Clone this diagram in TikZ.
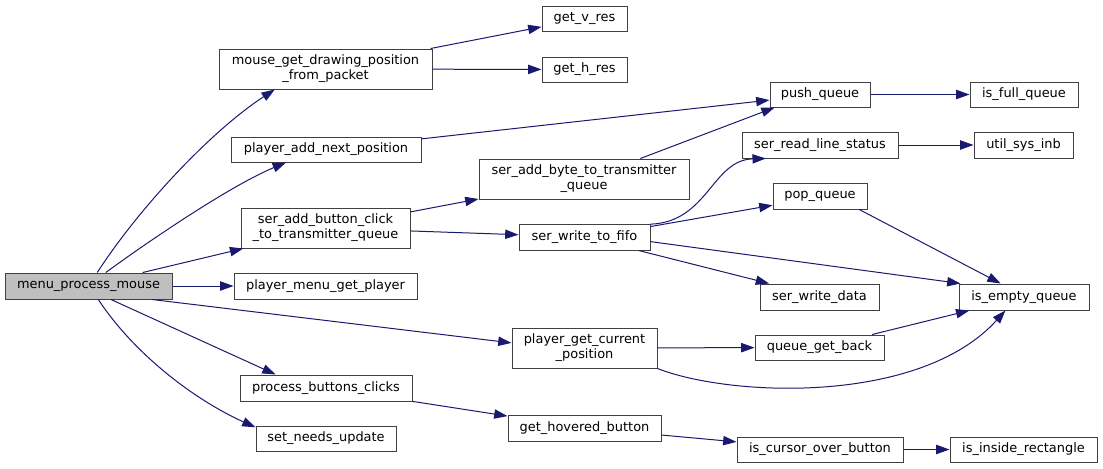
\documentclass[tikz,border=0pt]{standalone}
\usepackage{fontspec}
\setmainfont{DejaVu Sans}
\usetikzlibrary{arrows.meta}

\begin{document}
\begin{tikzpicture}[x=0.75pt,y=-0.75pt,
  func/.style 2 args={draw=cborder,line width=0.75pt,fill=white,inner sep=0pt,align=center,
    minimum width=#1*0.75pt,minimum height=#2*0.75pt,font=\fontsize{9.7}{11.3}\selectfont},
  call/.style={draw=ccall,line width=0.75pt,-{Triangle[length=10pt,width=7pt]}}]
  \definecolor{cborder}{RGB}{64,64,64}
  \definecolor{croot}{RGB}{191,191,191}
  \definecolor{ccall}{RGB}{25,25,112}
  \useasboundingbox (0,0) rectangle (1103,468);
  % first column
  \node[func={167}{26},fill=croot] (mpm) at (88.5,286) {menu\_process\_mouse};
  % second column
  \node[func={213}{40}] (mgdp) at (325.5,69) {mouse\_get\_drawing\_position\\\_from\_packet};
  \node[func={190}{25}] (pann) at (326,149.5) {player\_add\_next\_position};
  \node[func={169}{40}] (sabc) at (325.5,228) {ser\_add\_button\_click\\\_to\_transmitter\_queue};
  \node[func={183}{26}] (pmgp) at (325.5,286) {player\_menu\_get\_player};
  \node[func={172}{26}] (pbc) at (326,388) {process\_buttons\_clicks};
  \node[func={140}{25}] (snu) at (326,438.5) {set\_needs\_update};
  % third column
  \node[func={85}{25}] (gvr) at (584.5,18.5) {get\_v\_res};
  \node[func={85}{25}] (ghr) at (584.5,69.5) {get\_h\_res};
  \node[func={210}{40}] (sabt) at (584,179) {ser\_add\_byte\_to\_transmitter\\\_queue};
  \node[func={131}{26}] (swtf) at (584.5,237) {ser\_write\_to\_fifo};
  \node[func={145}{40}] (pgcp) at (584.5,348) {player\_get\_current\\\_position};
  \node[func={153}{26}] (ghb) at (584.5,428) {get\_hovered\_button};
  % fourth column
  \node[func={100}{25}] (pq) at (820,94.5) {push\_queue};
  \node[func={156}{26}] (srls) at (820,145) {ser\_read\_line\_status};
  \node[func={94}{26}] (popq) at (820,196) {pop\_queue};
  \node[func={119}{26}] (swd) at (819.5,297) {ser\_write\_data};
  \node[func={129}{25}] (qgb) at (819.5,347.5) {queue\_get\_back};
  \node[func={166}{25}] (icob) at (820,449.5) {is\_cursor\_over\_button};
  % fifth column
  \node[func={108}{25}] (ifq) at (1024,94.5) {is\_full\_queue};
  \node[func={99}{26}] (usi) at (1023.5,145) {util\_sys\_inb};
  \node[func={130}{26}] (ieq) at (1024,297) {is\_empty\_queue};
  \node[func={147}{25}] (iir) at (1023.5,449.5) {is\_inside\_rectangle};
  % calls
  \draw[call] (mpm.57) .. controls (139,208) and (211,131) .. (mgdp.202);
  \draw[call] (mpm.38) .. controls (153,238) and (232,185) .. (pann.198);
  \draw[call] (mpm.14) -- (sabc.194);
  \draw[call] (mpm) -- (pmgp);
  \draw[call] (mpm.-12) -- (pgcp.176);
  \draw[call] (mpm.-31) -- (pbc.165);
  \draw[call] (mpm.-54) .. controls (135,355) and (195,400) .. (snu.171);
  \draw[call] (sabt.20) -- (pq.196);
  \draw[call] (swtf.11) .. controls (708,222) and (712,160) .. (srls.194);
  \draw[call] (swtf.9) -- (popq.191);
  \draw[call] (swtf.-4) -- (ieq.168);
  \draw[call] (swtf.-14) -- (swd.165);
  \draw[call] (popq.-19) -- (ieq.150);
  \draw[call] (pgcp.south east) .. controls (730,397) and (920,405) .. (ieq.216);
  \foreach \src/\dst in {mgdp/gvr,mgdp/ghr,pann/pq,sabc/sabt,sabc/swtf,pq/ifq,
    srls/usi,pgcp/qgb,qgb/ieq,pbc/ghb,ghb/icob,icob/iir}{%
    \draw[call] (\src) -- (\dst);
  }
\end{tikzpicture}
\end{document}
